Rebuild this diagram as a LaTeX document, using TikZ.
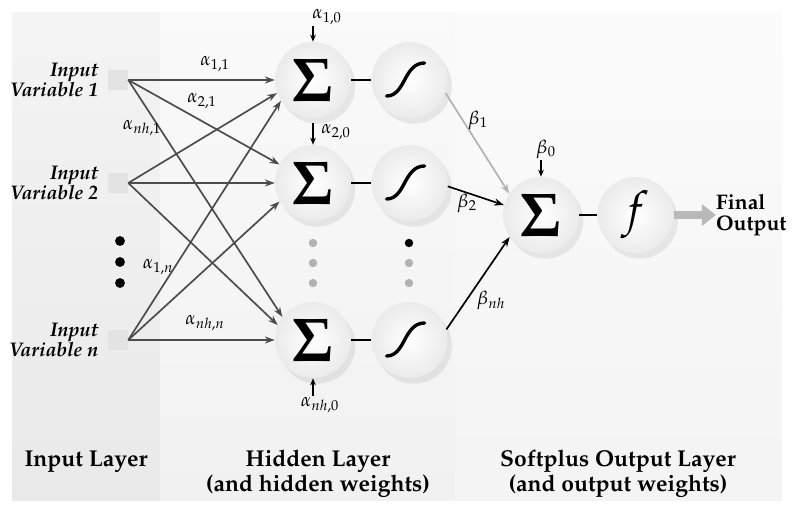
\documentclass[tikz,border=0pt]{standalone}
\usepackage[T1]{fontenc}
\usepackage{tikz}
\usepackage{xcolor}
\usepackage{mathpazo}
\usetikzlibrary{arrows.meta,positioning,calc,shadows}
\tikzset{%
  % classes
  ball/.style={circle, minimum size=1.9cm, inner sep=0pt, shade, inner color=white, outer color=gray!16,
    drop shadow={shadow xshift=3pt, shadow yshift=-4pt, opacity=0.15}},
  inbox/.style={rectangle, fill=gray!22, minimum size=0.5cm, inner sep=0pt},
  dot/.style={circle, fill=black, inner sep=0pt, minimum size=7pt},
  graydot/.style={dot, fill=gray!60, minimum size=6pt},
  % labels
  inlabel/.style={font=\fontsize{14}{12.6}\selectfont\bfseries\itshape, align=right, inner sep=0pt},
  layer/.style={font=\fontsize{16.3}{17.8}\selectfont\bfseries, align=center},
  weight/.style={font=\fontsize{13.5}{15}\selectfont, inner sep=1pt},
  outlabel/.style={font=\fontsize{15}{15}\selectfont\bfseries, align=left, inner sep=0pt},
  % edge styles
  link/.style={-{Stealth[length=7pt,width=5pt]}, line width=1.2pt, draw=black!70},
  blink/.style={-{Stealth[length=7pt,width=5pt]}, line width=1.2pt, draw=black},
  bias/.style={-{Stealth[length=5pt,width=4pt]}, line width=1pt},
  joinline/.style={line width=1.6pt},
  scurve/.style={line width=2.4pt, line cap=round},
  bigarrow/.style={-{Triangle[length=10pt,width=15pt]}, line width=5.5pt, draw=gray!55},
}
\newcommand{\bigsum}{{\fontsize{44}{44}\selectfont$\mathbf{\Sigma}$}}
\newcommand{\sigcurve}[1]{%
  % #1 = node name
  \draw[scurve] ($(#1)+(-23,16)$) .. controls ($(#1)+(-4,16)$) and ($(#1)+(-6,-17)$) .. ($(#1)+(15,-17)$);
}

\begin{document}
\begin{tikzpicture}[x=0.025cm, y=-0.025cm]
  \useasboundingbox (0,0) rectangle (792,508);

  % Layer panels
  \shade[top color=gray!9, bottom color=gray!17] (12,12) rectangle (160,500);
  \shade[top color=gray!4, bottom color=gray!11] (160,12) rectangle (455,500);
  \shade[top color=gray!3, bottom color=gray!9] (455,12) rectangle (782,500);

  % Inputs
  \node[inbox] (inp1) at (118,80) {};
  \node[inbox] (inp2) at (118,183) {};
  \node[inbox] (inpn) at (118,340) {};
  \node[inlabel, left=2.3mm of inp1] (lab1) {Input\\Variable 1};
  \node[inlabel, left=2.3mm of inp2] (lab2) {Input\\Variable 2};
  \node[inlabel, left=2.3mm of inpn] (labn) {Input\\Variable \textit{n}};
  \foreach \y in {241,262,283} \node[dot] (idot\y) at (120,\y) {};

  % Hidden layer
  \node[ball] (sum1) at (313,80) {\bigsum};
  \node[ball] (sum2) at (313,183) {\bigsum};
  \node[ball] (sumn) at (313,340) {\bigsum};
  \node[ball, right=0.5cm of sum1] (sig1) {};
  \node[ball, right=0.5cm of sum2] (sig2) {};
  \node[ball, right=0.5cm of sumn] (sign) {};
  \sigcurve{sig1} \sigcurve{sig2} \sigcurve{sign}
  \foreach \y in {243,263,283} \node[graydot] (hdot\y) at (313,\y) {};
  \node[dot, minimum size=6pt] (sdot243) at (409,243) {};
  \foreach \y in {263,283} \node[graydot] (sdot\y) at (409,\y) {};

  % Output layer
  \node[ball] (out) at (541,215) {\bigsum};
  \node[ball, right=0.45cm of out] (fn) {\fontsize{34}{34}\selectfont$f$};
  \node[outlabel, right=1.05cm of fn] (final) {Final\\Output};

  % Input to hidden links
  \draw[link] (inp1.east) -- (sum1.180);
  \draw[link] (inp1.east) -- (sum2.151);
  \draw[link] (inp1.east) -- (sumn.143);
  \draw[link] (inp2.east) -- (sum1.200);
  \draw[link] (inp2.east) -- (sum2.180);
  \draw[link] (inp2.east) -- (sumn.157);
  \draw[link] (inpn.east) -- (sum1.213);
  \draw[link] (inpn.east) -- (sum2.209);
  \draw[link] (inpn.east) -- (sumn.180);

  % Sum to activation
  \draw[joinline] (sum1) -- (sig1);
  \draw[joinline] (sum2) -- (sig2);
  \draw[joinline] (sumn) -- (sign);
  \draw[joinline] (out) -- (fn);

  % Hidden to output links
  \draw[link, draw=gray!60] (sig1.-20) -- (out.146);
  \draw[blink] (sig2.-5) -- (out.165);
  \draw[blink] (sign.16) -- (out.215);
  \draw[bigarrow] (fn) -- (final);

  % Weights
  \node[weight] (a11) at (215,64) {$\alpha_{1,1}$};
  \node[weight] (a21) at (202,101) {$\alpha_{2,1}$};
  \node[weight] (anh1) at (142,128) {$\alpha_{nh,1}$};
  \node[weight] (a1n) at (158,267) {$\alpha_{1,n}$};
  \node[weight] (anhn) at (205,323) {$\alpha_{nh,n}$};
  \node[weight] (b1) at (478,120) {$\beta_1$};
  \node[weight] (b2) at (467,203) {$\beta_2$};
  \node[weight] (bnh) at (491,300) {$\beta_{nh}$};

  % Biases
  \node[weight] (a10) at (327,17) {$\alpha_{1,0}$};
  \node[weight] (a20) at (336,132) {$\alpha_{2,0}$};
  \node[weight] (anh0) at (320,405) {$\alpha_{nh,0}$};
  \node[weight] (b0) at (546,149) {$\beta_0$};
  \draw[bias] (sum1.north |- a10.south) -- (sum1.north);
  \draw[bias] (sum2.north |- a20.north) -- (sum2.north);
  \draw[bias] (sumn.south |- anh0.north) -- (sumn.south);
  \draw[bias] (out.north |- b0.south) -- (out.north);

  % Layer captions
  \node[layer] (inlayer) at (86,462) {Input Layer};
  \node[layer] (hidlayer) at (318,474) {Hidden Layer\\(and hidden weights)};
  \node[layer] (outlayer) at (618,474) {Softplus Output Layer\\(and output weights)};

\end{tikzpicture}
\end{document}
